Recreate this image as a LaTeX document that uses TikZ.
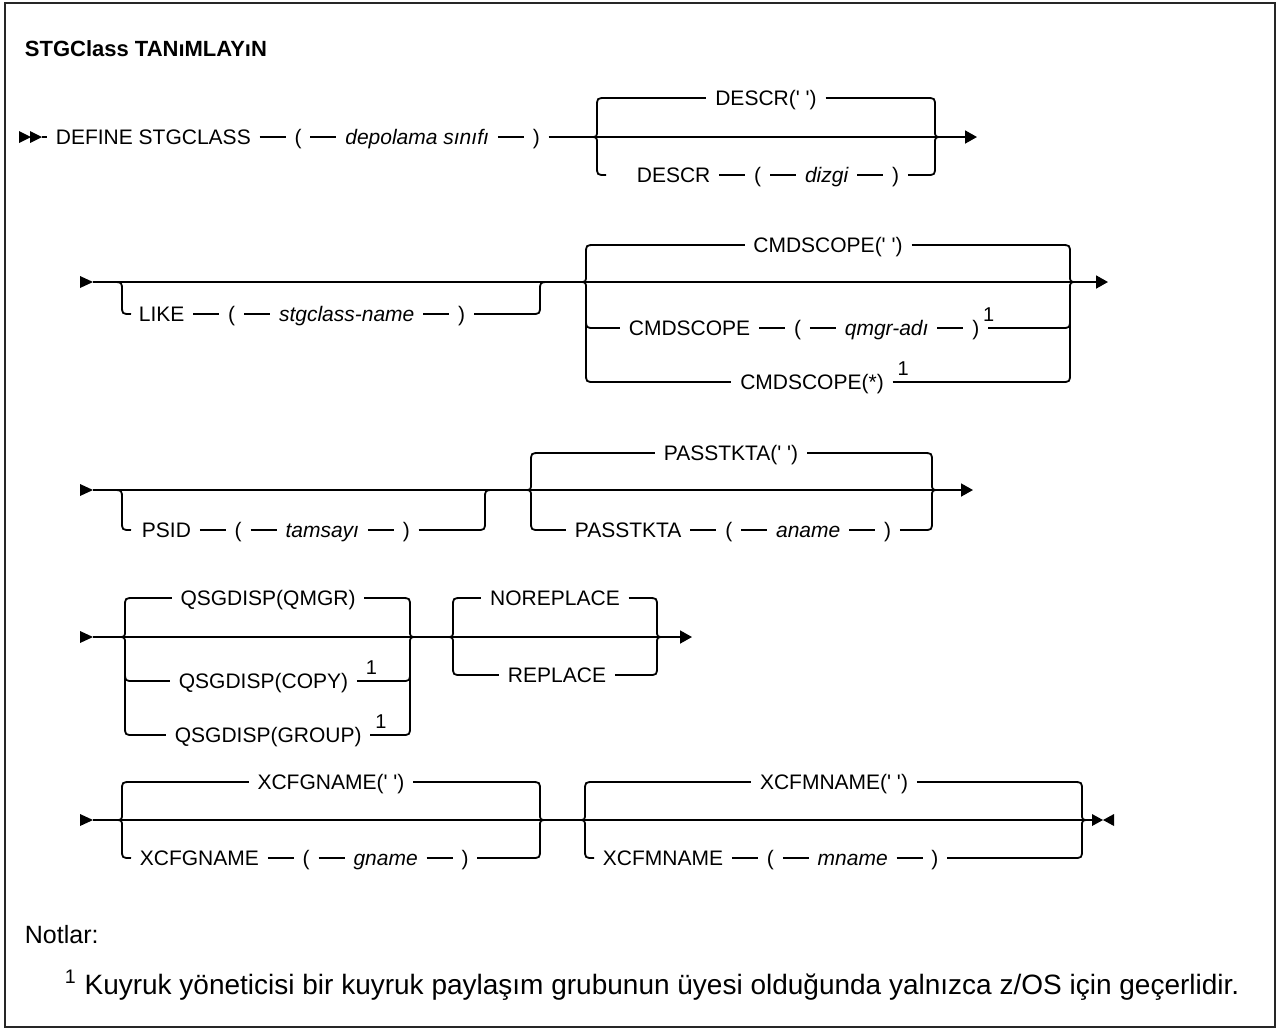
\documentclass[tikz,border=0pt]{standalone}
\usepackage{fontspec}
\newfontfamily\railfont{Liberation Sans}
\usetikzlibrary{positioning,arrows.meta}

% syntax diagram pieces, coordinates in pixels (y grows downwards)
\tikzset{
  rail/.style={x=0.5pt,y=-0.5pt,line width=0.9pt,node distance=13pt},
  kw/.style={inner xsep=4pt,inner ysep=0pt,text height=7.5pt,text depth=0pt,
    font=\railfont\fontsize{10.5}{12}\selectfont},
  var/.style={kw,font=\railfont\fontsize{10.5}{12}\selectfont\itshape},
  fn/.style={inner sep=0pt,anchor=south west,font=\railfont\fontsize{10}{10}\selectfont},
  goon/.style={-{Triangle[length=6pt,width=6.5pt]}},
}
% brace of a choice group: x, top row, main row, last row
\newcommand\ChoiceL[4]{\draw (#1+9,#2) .. controls (#1,#2) .. (#1,#2+9) -- (#1,#3-7)
  .. controls (#1,#3) .. (#1-7,#3) .. controls (#1,#3) .. (#1,#3+7) -- (#1,#4-9)
  .. controls (#1,#4) .. (#1+9,#4);}
\newcommand\ChoiceR[4]{\draw (#1-9,#2) .. controls (#1,#2) .. (#1,#2+9) -- (#1,#3-7)
  .. controls (#1,#3) .. (#1+7,#3) .. controls (#1,#3) .. (#1,#3+7) -- (#1,#4-9)
  .. controls (#1,#4) .. (#1-9,#4);}
% extra row in the middle of a brace
\newcommand\BranchL[2]{\draw (#1,#2-9) .. controls (#1,#2) .. (#1+9,#2);}
\newcommand\BranchR[2]{\draw (#1,#2-9) .. controls (#1,#2) .. (#1-9,#2);}
% optional item below the main line: x, main row, lower row
\newcommand\OptL[3]{\draw (#1-9,#2) .. controls (#1,#2) .. (#1,#2+9) -- (#1,#3-9)
  .. controls (#1,#3) .. (#1+9,#3);}
\newcommand\OptR[3]{\draw (#1-9,#3) .. controls (#1,#3) .. (#1,#3-9) -- (#1,#2+9)
  .. controls (#1,#2) .. (#1+9,#2);}
% start of a continued line
\newcommand\GoOn[1]{\fill (80,#1-6) -- (93,#1) -- (80,#1+6) -- cycle;}

\begin{document}
\begin{tikzpicture}[rail]
  \useasboundingbox (0,0) rectangle (1279,1030);
  \draw[black!85,line width=1pt] (5,3) rectangle (1275,1027);
  \node[anchor=west,inner sep=0pt,font=\railfont\bfseries\fontsize{11}{13}\selectfont] (title) at (24,49) {STGClass TANıMLAYıN};

  % first line
  \fill (19,131) -- (31,137) -- (19,143) -- cycle;
  \fill (30,131) -- (42,137) -- (30,143) -- cycle;
  \coordinate (s1) at (42,137);
  \node[kw,anchor=west] (def) at (47,137) {DEFINE STGCLASS};
  \node[kw,right=of def] (p1) {(};
  \node[var,right=of p1] (cls) {depolama sınıfı};
  \node[kw,right=of cls] (p2) {)};
  \draw (s1) -- (def) -- (p1) -- (cls) -- (p2);
  \draw[goon] (p2) -- (977,137);
  \ChoiceL{597}{98}{137}{175}
  \ChoiceR{935}{98}{137}{175}
  \coordinate (dl) at (606,137);
  \coordinate (dr) at (926,137);
  \node[kw] (dsc0) at (766,98) {DESCR(' ')};
  \draw (dl |- dsc0) -- (dsc0) -- (dr |- dsc0);
  \node[kw,anchor=west] (dsc) at (628,175) {DESCR};
  \node[kw,right=of dsc] (p3) {(};
  \node[var,right=of p3] (dz) {dizgi};
  \node[kw,right=of dz] (p4) {)};
  \draw (dsc) -- (p3) -- (dz) -- (p4) -- (dr |- p4);

  % LIKE, CMDSCOPE
  \GoOn{282}
  \coordinate (s2) at (93,282);
  \draw[goon] (s2) -- (1108,282);
  \OptL{122}{282}{314}
  \OptR{540}{282}{314}
  \coordinate (lr) at (531,282);
  \node[kw,anchor=west] (lk) at (130,314) {LIKE};
  \node[kw,right=of lk] (p5) {(};
  \node[var,right=of p5] (sn) {stgclass-name};
  \node[kw,right=of sn] (p6) {)};
  \draw (lk) -- (p5) -- (sn) -- (p6) -- (lr |- p6);
  \ChoiceL{586}{245}{282}{382}
  \BranchL{586}{328}
  \ChoiceR{1070}{245}{282}{382}
  \BranchR{1070}{328}
  \coordinate (cl) at (595,282);
  \coordinate (cr) at (1061,282);
  \node[kw] (cs0) at (828,245) {CMDSCOPE(' ')};
  \draw (cl |- cs0) -- (cs0) -- (cr |- cs0);
  \node[kw,anchor=west] (cs) at (620,328) {CMDSCOPE};
  \node[kw,right=of cs] (p7) {(};
  \node[var,right=of p7] (qm) {qmgr-adı};
  \node[kw,right=of qm] (p8) {)};
  \node[fn] (n1) at ([xshift=-3pt,yshift=3pt]p8.east) {1};
  \draw (cl |- cs) -- (cs) -- (p7) -- (qm) -- (p8) -- (cr |- p8);
  \node[kw] (csa) at (812,382) {CMDSCOPE(*)};
  \node[fn] (n2) at ([xshift=2pt,yshift=3pt]csa.east) {1};
  \draw (cl |- csa) -- (csa) -- (cr |- csa);

  % PSID, PASSTKTA
  \GoOn{490}
  \coordinate (s3) at (93,490);
  \draw[goon] (s3) -- (973,490);
  \OptL{122}{490}{530}
  \OptR{485}{490}{530}
  \coordinate (pr) at (476,490);
  \node[kw,anchor=west] (ps) at (133,530) {PSID};
  \node[kw,right=of ps] (p9) {(};
  \node[var,right=of p9] (ts) {tamsayı};
  \node[kw,right=of ts] (p10) {)};
  \draw (ps) -- (p9) -- (ts) -- (p10) -- (pr |- p10);
  \ChoiceL{531}{453}{490}{530}
  \ChoiceR{932}{453}{490}{530}
  \coordinate (kl) at (540,490);
  \coordinate (kr) at (923,490);
  \node[kw] (pk0) at (731,453) {PASSTKTA(' ')};
  \draw (kl |- pk0) -- (pk0) -- (kr |- pk0);
  \node[kw,anchor=west] (pk) at (566,530) {PASSTKTA};
  \node[kw,right=of pk] (p11) {(};
  \node[var,right=of p11] (an) {aname};
  \node[kw,right=of an] (p12) {)};
  \draw (kl |- pk) -- (pk) -- (p11) -- (an) -- (p12) -- (kr |- p12);

  % QSGDISP, NOREPLACE
  \GoOn{637}
  \coordinate (s4) at (93,637);
  \draw[goon] (s4) -- (692,637);
  \ChoiceL{125}{598}{637}{735}
  \BranchL{125}{681}
  \ChoiceR{410}{598}{637}{735}
  \BranchR{410}{681}
  \coordinate (ql) at (134,637);
  \coordinate (qr) at (401,637);
  \node[kw] (qs0) at (268,598) {QSGDISP(QMGR)};
  \draw (ql |- qs0) -- (qs0) -- (qr |- qs0);
  \node[kw,anchor=west] (qsc) at (170,681) {QSGDISP(COPY)};
  \node[fn] (n3) at ([xshift=4pt,yshift=3pt]qsc.east) {1};
  \draw (ql |- qsc) -- (qsc) -- (qr |- qsc);
  \node[kw,anchor=west] (qsg) at (166,735) {QSGDISP(GROUP)};
  \node[fn] (n4) at ([xshift=2pt,yshift=3pt]qsg.east) {1};
  \draw (ql |- qsg) -- (qsg) -- (qr |- qsg);
  \ChoiceL{453}{598}{637}{675}
  \ChoiceR{657}{598}{637}{675}
  \coordinate (rl) at (462,637);
  \coordinate (rr) at (648,637);
  \node[kw] (nrp) at (555,598) {NOREPLACE};
  \draw (rl |- nrp) -- (nrp) -- (rr |- nrp);
  \node[kw] (rp) at (557,675) {REPLACE};
  \draw (rl |- rp) -- (rp) -- (rr |- rp);

  % XCFGNAME, XCFMNAME
  \GoOn{820}
  \coordinate (s5) at (93,820);
  \coordinate (e5) at (1092,820);
  \draw (s5) -- (e5);
  \fill (1092,814) -- (1103,820) -- (1092,826) -- cycle;
  \fill (1114,814) -- (1103,820) -- (1114,826) -- cycle;
  \ChoiceL{122}{782}{820}{858}
  \ChoiceR{540}{782}{820}{858}
  \coordinate (gl) at (131,820);
  \coordinate (gr) at (531,820);
  \node[kw] (xg0) at (331,782) {XCFGNAME(' ')};
  \draw (gl |- xg0) -- (xg0) -- (gr |- xg0);
  \node[kw,anchor=west] (xg) at (131,858) {XCFGNAME};
  \node[kw,right=of xg] (p13) {(};
  \node[var,right=of p13] (gn) {gname};
  \node[kw,right=of gn] (p14) {)};
  \draw (xg) -- (p13) -- (gn) -- (p14) -- (gr |- p14);
  \ChoiceL{585}{782}{820}{858}
  \ChoiceR{1082}{782}{820}{858}
  \coordinate (ml) at (594,820);
  \coordinate (mr) at (1073,820);
  \node[kw] (xm0) at (834,782) {XCFMNAME(' ')};
  \draw (ml |- xm0) -- (xm0) -- (mr |- xm0);
  \node[kw,anchor=west] (xm) at (594,858) {XCFMNAME};
  \node[kw,right=of xm] (p15) {(};
  \node[var,right=of p15] (mn) {mname};
  \node[kw,right=of mn] (p16) {)};
  \draw (xm) -- (p15) -- (mn) -- (p16) -- (mr |- p16);

  % notes
  \node[anchor=west,inner sep=0pt,font=\railfont\fontsize{12.5}{15}\selectfont] (nt) at (24,935) {Notlar:};
  \node[anchor=west,inner sep=0pt,font=\railfont\fontsize{14}{16}\selectfont] (note1) at (64,985)
    {\textsuperscript{1} Kuyruk yöneticisi bir kuyruk paylaşım grubunun üyesi olduğunda yalnızca z/OS için geçerlidir.};
\end{tikzpicture}
\end{document}
